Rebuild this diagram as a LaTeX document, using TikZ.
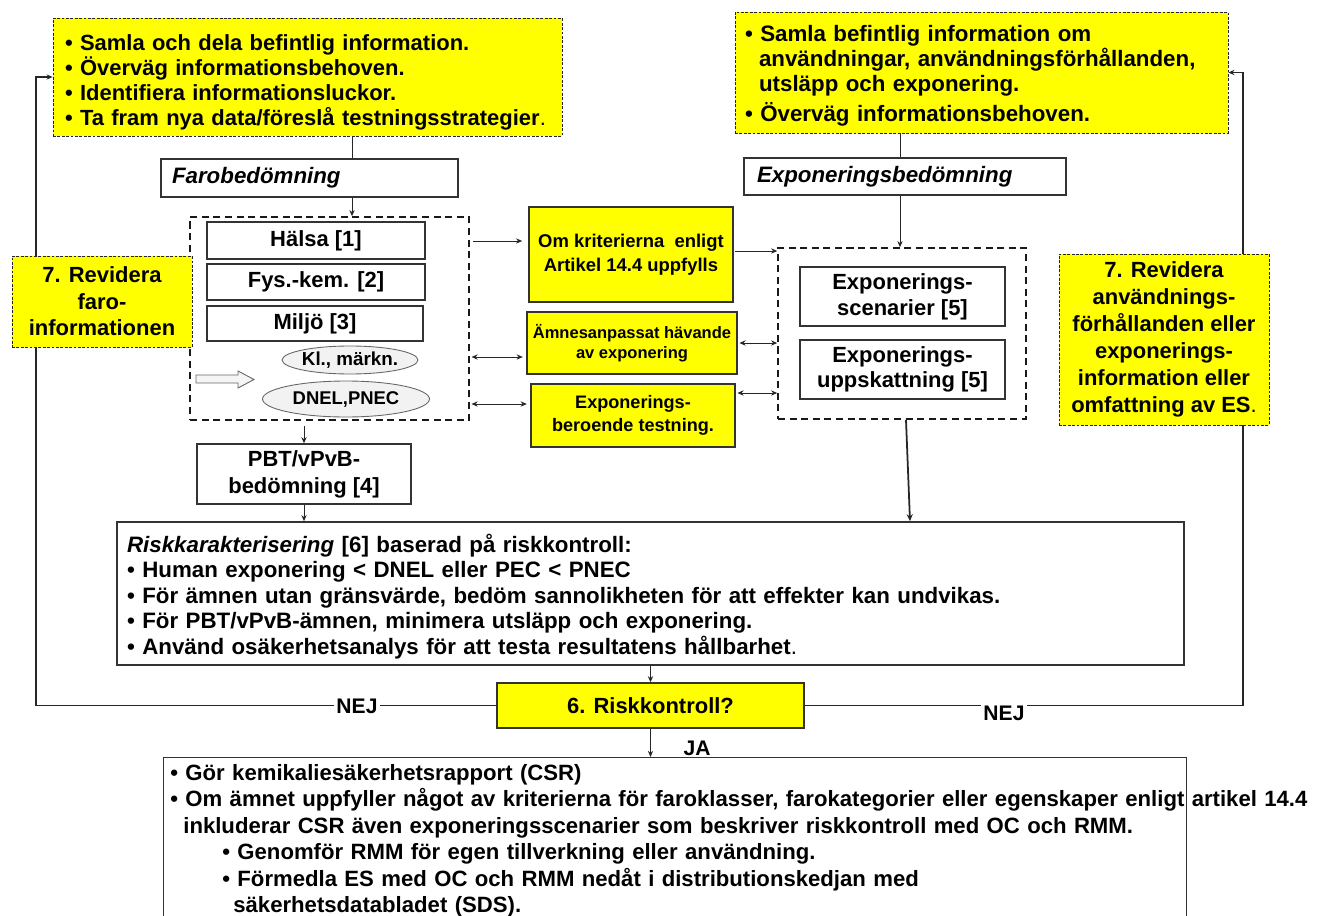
\documentclass[tikz,border=0pt]{standalone}
\usepackage{fontspec}
\setmainfont{Liberation Sans}
\usetikzlibrary{arrows.meta,shapes.geometric,calc,backgrounds}
\definecolor{yel}{rgb}{1,1,0}
\newcommand{\FS}[2]{\fontsize{#1}{#2}\selectfont}
\tikzset{
  ybox/.style={draw=black!85, fill=yel, line width=0.45pt, dash pattern=on 1.6pt off 0.9pt},
  sbox/.style={draw=black!80, fill=yel, line width=0.8pt},
  wbox/.style={draw=black!80, fill=white, line width=0.8pt},
  grp/.style={draw=black!90, line width=0.9pt, dash pattern=on 4pt off 2.6pt},
  ell/.style={ellipse, draw=black!60, fill=black!5, line width=0.5pt, inner sep=0pt},
  conn/.style={draw=black!85, line width=0.55pt},
  arr/.style={conn, -{Stealth[length=3.5pt,width=3pt]}},
  darr/.style={conn, {Stealth[length=3.5pt,width=3pt]}-{Stealth[length=3.5pt,width=3pt]}},
  lbl/.style={fill=white, inner sep=1.5pt, font=\bfseries\FS{12}{14}},
  big/.style={font=\bfseries\FS{12.5}{15}, align=center},
}
\begin{document}
\begin{tikzpicture}[x=0.02cm,y=-0.02cm]
\useasboundingbox (0,0) rectangle (1320,916);
\clip (0,0) rectangle (1320,916);

% helper coordinates
\coordinate (lx) at (352,0);
\coordinate (rx) at (900,0);
\coordinate (y1) at (0,241);
\coordinate (y2) at (0,357);
\coordinate (y3) at (0,404);
\coordinate (y4) at (0,251);
\coordinate (y5) at (0,343);
\coordinate (y6) at (0,393);
\coordinate (lfb) at (36,77);
\coordinate (rfb) at (1243,72.5);

% top boxes
\node[ybox, minimum width=10.18cm, minimum height=2.36cm, text width=9.7cm, inner xsep=0.24cm, align=left, font=\bfseries\FS{12.5}{14.2}] (tl) at (307.5,77)
 {\rule{0pt}{15pt}• Samla och dela befintlig information.\\
  • Överväg informationsbehoven.\\
  • Identifiera informationsluckor.\\
  • Ta fram nya data/föreslå testningsstrategier{\mdseries .}};

\node[ybox, minimum width=9.86cm, minimum height=2.42cm, text width=9.46cm, inner xsep=0.2cm, align=left, font=\bfseries\FS{12.7}{14.2}] (tr) at (981.5,72.5)
 {\rule{0pt}{12.7pt}• Samla befintlig information om\\
  \hspace*{0.28cm}användningar, användningsförhållanden,\\
  \hspace*{0.28cm}utsläpp och exponering.\\[2.8pt]
  • Överväg informationsbehoven.};

\node[wbox, minimum width=5.94cm, minimum height=0.76cm, text width=5.5cm, inner xsep=0.22cm, align=left, font=\bfseries\itshape\FS{12.7}{14}] (faro) at (309.5,178) {Farobedömning};
\node[wbox, minimum width=6.44cm, minimum height=0.74cm, text width=5.92cm, inner xsep=0.26cm, align=left, font=\bfseries\itshape\FS{12.7}{14}] (expbed) at (905,176.5) {Exponeringsbedömning};

% left group
\node[grp, minimum width=5.58cm, minimum height=4.06cm] (lgrp) at (329.5,318.5) {};
\node[wbox, big, minimum width=4.36cm, minimum height=0.74cm] (halsa) at (316,240.5) {Hälsa [1]};
\node[wbox, big, minimum width=4.36cm, minimum height=0.72cm] (fys) at (316,282) {Fys.-kem. [2]};
\node[wbox, big, minimum width=4.32cm, minimum height=0.70cm] (miljo) at (315,323.5) {Miljö [3]};
\node[ell, minimum width=2.12cm, minimum height=0.56cm, font=\bfseries\FS{10.7}{12}] (kl) at (350,360) {Kl., märkn.};
\node[ell, minimum width=3.34cm, minimum height=0.72cm, font=\bfseries\FS{10.5}{12}] (dnel) at (346,399) {DNEL,PNEC};
\draw[fill=black!4, draw=black!60, line width=0.5pt]
  (196,375) -- (238,375) -- (238,371) -- (254,379.5) -- (238,388) -- (238,383) -- (196,383) -- cycle;

\node[ybox, big, minimum width=3.6cm, minimum height=1.82cm, font=\bfseries\FS{12.5}{15}] (lyel) at (102,301.5) {7. Revidera\\faro-\\informationen};

% middle yellow boxes
\node[sbox, minimum width=4.08cm, minimum height=1.9cm, align=center, font=\bfseries\FS{10.5}{13.6}] (om) at (631,254.5) {Om kriterierna~ enligt\\Artikel 14.4 uppfylls};
\node[sbox, minimum width=4.08cm, minimum height=1.24cm, align=center, font=\bfseries\FS{9.4}{11.3}] (amn) at (632,343) {Ämnesanpassat hävande\\av exponering};
\node[sbox, minimum width=4.08cm, minimum height=1.26cm, align=center, font=\bfseries\FS{10.3}{13}] (expber) at (633,415.5) {Exponerings-\\beroende testning.};

% right group
\node[grp, minimum width=4.96cm, minimum height=3.42cm] (rgrp) at (902,333.5) {};
\node[wbox, big, minimum width=4.1cm, minimum height=1.18cm, font=\bfseries\FS{12.5}{14.6}] (expscen) at (902.5,296.5) {Exponerings-\\scenarier [5]};
\node[wbox, big, minimum width=4.1cm, minimum height=1.18cm, font=\bfseries\FS{12.5}{14.6}] (expupps) at (902.5,369.5) {Exponerings-\\uppskattning [5]};

\node[ybox, big, minimum width=4.2cm, minimum height=3.42cm, font=\bfseries\FS{12.5}{15.3}] (ryel) at (1164,339.5)
 {7. Revidera\\användnings-\\förhållanden eller\\exponerings-\\information eller\\omfattning av ES{\mdseries .}};

% PBT
\node[wbox, big, minimum width=4.28cm, minimum height=1.2cm, font=\bfseries\FS{12.5}{15.3}] (pbt) at (304,474) {PBT/vPvB-\\bedömning [4]};

% risk characterisation
\node[wbox, minimum width=21.34cm, minimum height=2.78cm, text width=20.94cm, inner xsep=0.2cm, align=left, font=\bfseries\FS{12.7}{14.6}] (risk) at (650.5,593.5)
 {\rule{0pt}{13.8pt}\textit{Riskkarakterisering} [6] baserad på riskkontroll:\\
  • Human exponering < DNEL eller PEC < PNEC\\
  • För ämnen utan gränsvärde, bedöm sannolikheten för att effekter kan undvikas.\\
  • För PBT/vPvB-ämnen, minimera utsläpp och exponering.\\
  • Använd osäkerhetsanalys för att testa resultatens hållbarhet{\mdseries .}};

\node[sbox, minimum width=6.14cm, minimum height=0.9cm, font=\bfseries\FS{12.5}{14}] (riskk) at (650.5,705.5) {6. Riskkontroll?};

% CSR box
\node[wbox, fill=none, anchor=north west, minimum width=20.46cm, minimum height=4cm] (csr) at (163,757) {};
\node[anchor=base west, inner sep=0pt, text width=23cm, align=left, font=\bfseries\FS{12.6}{15.1}] (csrtxt) at (170,780)
 {• Gör kemikaliesäkerhetsrapport (CSR)\\
  • Om ämnet uppfyller något av kriterierna för faroklasser, farokategorier eller egenskaper enligt artikel 14.4\\
  \hspace*{0.26cm}inkluderar CSR även exponeringsscenarier som beskriver riskkontroll med OC och RMM.\\
  \hspace*{1.04cm}• Genomför RMM för egen tillverkning eller användning.\\
  \hspace*{1.04cm}• Förmedla ES med OC och RMM nedåt i distributionskedjan med\\
  \hspace*{1.26cm}säkerhetsdatabladet (SDS).};

% labels
\node[lbl] (nejl) at (357,706) {NEJ};
\node[lbl] (nejr) at (1004,713) {NEJ};
\node[font=\bfseries\FS{12}{14}, inner sep=0pt] (ja) at (697,748) {JA};

% connectors
\begin{pgfonlayer}{background}
\draw[conn] (tl.south -| lx) -- (faro.north -| lx);
\draw[arr] (faro.south -| lx) -- (lgrp.north -| lx);
\draw[conn] (tr.south -| rx) -- (expbed.north -| rx);
\draw[arr] (expbed.south -| rx) -- (rgrp.north -| rx);

\draw[arr, shorten <=2pt, shorten >=3.5pt] (lgrp.east |- y1) -- (om.west |- y1);
\draw[darr, shorten <=1pt, shorten >=2pt] (lgrp.east |- y2) -- (amn.west |- y2);
\draw[darr, shorten <=1pt, shorten >=2pt] (lgrp.east |- y3) -- (expber.west |- y3);

\draw[arr, shorten <=1pt] (om.east |- y4) -- (rgrp.west |- y4);
\draw[darr, shorten <=1pt] (amn.east |- y5) -- (rgrp.west |- y5);
\draw[darr, shorten <=1pt] (expber.east |- y6) -- (rgrp.west |- y6);

\draw[arr, shorten <=3pt] (lgrp.south -| pbt.north) -- (pbt.north);
\draw[arr] (pbt.south) -- (pbt.south |- risk.north);
\draw[conn, line width=1pt, -{Stealth[length=4pt,width=3.5pt]}] ([xshift=0.08cm]rgrp.south) -- ([xshift=0.16cm]rgrp.south |- risk.north);

\draw[arr] (risk.south) -- (riskk.north);
\draw[arr] (riskk.south) -- (riskk.south |- csr.north);

\draw[arr, line width=0.6pt] (riskk.west) -| (lfb) -- (tl.west);
\draw[arr, line width=0.6pt] (riskk.east) -| (rfb) -- (tr.east);
\end{pgfonlayer}
\end{tikzpicture}
\end{document}
